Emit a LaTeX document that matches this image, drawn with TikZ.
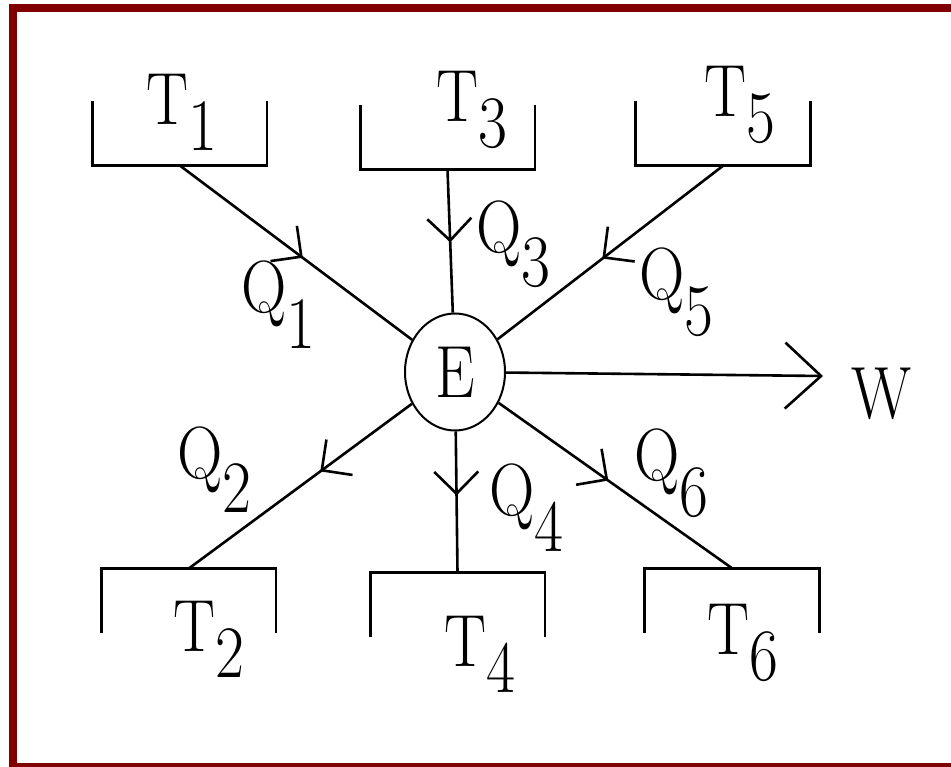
\documentclass[tikz,border=0pt]{standalone}
\usepackage{fontspec}
\newfontfamily\labelfont[FakeStretch=0.85]{Latin Modern Roman}
\usetikzlibrary{shapes.geometric,arrows.meta,decorations.markings}
\definecolor{framered}{HTML}{800000}
\newcommand{\withsub}[3][26pt]{#2\raisebox{-#1}{#3}}

\begin{document}
\begin{tikzpicture}[x=1pt, y=-1pt, line width=2.6pt,
	every node/.style={inner sep=0pt},
	tank/.style={minimum width=172pt, minimum height=62pt},
	big/.style={font=\labelfont\fontsize{74}{80}\selectfont},
	flow/.style={decoration={markings, mark=at position #1 with {\arrow{Straight Barb[length=22pt,width=44pt]}}}, postaction={decorate}}]
	\useasboundingbox (0,0) rectangle (951,767);
	\fill[white] (0,0) rectangle (951,767);
	\begin{scope}
		\clip (0,0) rectangle (951,767);
		\draw[framered, line width=8pt] (13,8) rectangle (960,767);
	\end{scope}

	% reservoirs
	\node[tank] (t1) at (179.5,133) {};
	\node[tank] (t3) at (447.5,137) {};
	\node[tank] (t5) at (723,133.5) {};
	\node[tank] (t2) at (188.5,601) {};
	\node[tank] (t4) at (457.5,604.5) {};
	\node[tank] (t6) at (732,600.5) {};
	\draw (t1.north west) |- (t1.south east) -- (t1.north east);
	\draw (t3.north west) |- (t3.south east) -- (t3.north east);
	\draw (t5.north west) |- (t5.south east) -- (t5.north east);
	\draw (t2.south west) |- (t2.north east) -- (t2.south east);
	\draw (t4.south west) |- (t4.north east) -- (t4.south east);
	\draw (t6.south west) |- (t6.north east) -- (t6.south east);

	\node[big, anchor=base west] (lt1) at (145,125) {\withsub{T}{1}};
	\node[big, anchor=base west] (lt3) at (435,122) {\withsub{T}{3}};
	\node[big, anchor=base west] (lt5) at (703,117) {\withsub{T}{5}};
	\node[big, anchor=base west] (lt2) at (172,651) {\withsub{T}{2}};
	\node[big, anchor=base west] (lt4) at (443,666) {\withsub{T}{4}};
	\node[big, anchor=base west] (lt6) at (706,654) {\withsub{T}{6}};

	% engine
	\node[draw, ellipse, line width=2pt, minimum width=100pt, minimum height=117pt, big] (e) at (455,372) {E};
	\coordinate (wend) at (823,376);
	\node[big, anchor=base west] (w) at (850,418) {W};

	\draw[flow=0.53] (t1.south) -- (e);
	\draw[flow=0.51] (t3.south) -- (e);
	\draw[flow=0.535] (t5.south) -- (e);
	\draw[flow=0.41] (e) -- (t2.north);
	\draw[flow=0.455] (e) -- (t4.north);
	\draw[flow=0.47] (e) -- (t6.north);
	\draw[-{Straight Barb[length=36pt,width=66pt]}] (e) -- (wend);

	\node[big, anchor=base west] (lq1) at (240,313) {\withsub[36pt]{Q}{1}};
	\node[big, anchor=base west] (lq3) at (475,253) {\withsub[34pt]{Q}{3}};
	\node[big, anchor=base west] (lq5) at (638,300) {\withsub[36pt]{Q}{5}};
	\node[big, anchor=base west] (lq2) at (176,478) {\withsub[34pt]{Q}{2}};
	\node[big, anchor=base west] (lq4) at (488,515) {\withsub[36pt]{Q}{4}};
	\node[big, anchor=base west] (lq6) at (633,480) {\withsub[36pt]{Q}{6}};
\end{tikzpicture}
\end{document}
